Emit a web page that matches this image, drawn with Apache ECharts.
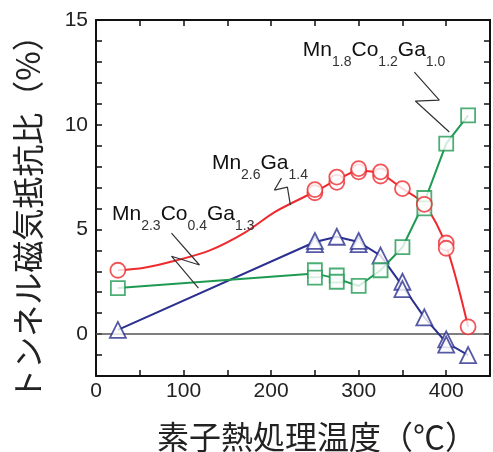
<!DOCTYPE html>
<html><head><meta charset="utf-8">
<script src="https://cdn.jsdelivr.net/npm/echarts/dist/echarts.min.js"></script>
<style>html,body{margin:0;padding:0;background:#fff}#c{width:493px;height:452px}</style>
</head><body><div id="c"></div>
<script>
// ---- data ----
const temps = [25, 250, 275, 300, 325, 350, 375, 400, 425];
// red fitted curve
const redCurveX = [25, 55, 90, 130, 170, 205, 250, 275, 300, 325, 350, 375, 400, 425];
const redCurveY = [3.05, 3.17, 3.5, 4.0, 4.85, 5.85, 6.8, 7.35, 7.8, 7.65, 6.95, 6.2, 4.2, 0.35];
const blueFit = [0.2, 4.4, 4.65, 4.4, 3.75, 2.3, 0.8, -0.4, -1.0];
const greenFit = [2.2, 2.9, 2.65, 2.3, 3.05, 4.15, 6.3, 9.1, 10.45];
const redPts = [[25,3.05],[250,6.75],[250,6.9],[275,7.25],[275,7.5],[300,7.75],[300,7.9],[325,7.55],[325,7.75],[350,6.95],[375,6.2],[400,4.35],[400,4.1],[425,0.35]];
const bluePts = [[25,0.2],[250,4.3],[250,4.45],[275,4.65],[300,4.3],[300,4.45],[325,3.75],[350,2.5],[350,2.15],[375,0.8],[400,-0.25],[400,-0.5],[425,-1.0]];
const greenPts = [[25,2.2],[250,3.05],[250,2.7],[275,2.8],[275,2.5],[300,2.3],[325,3.05],[350,4.15],[375,6.5],[375,6.0],[400,9.1],[425,10.45]];
const xTicks = [0, 100, 200, 300, 400];
const yTicks = [0, 5, 10, 15];
const annoText = [['Mn','1.8','Co','1.2','Ga','1.0'], ['Mn','2.6','Ga','1.4'], ['Mn','2.3','Co','0.4','Ga','1.3']];
const annoPos = [[235.7, 13.47], [131.8, 8.07], [17.7, 5.64]];
const leader1 = [[363.6,12.51],[392.1,11.17],[364.7,11.13],[403.5,9.65]];
const leader2 = [[211.8,7.45],[203.8,6.88],[218.6,7.02],[222.0,6.16]];
const leader3 = [[86.2,4.82],[118.2,3.30],[86.2,3.72],[117.0,2.20]];
const xName = '素子熱処理温度（℃）';
const yName = 'トンネル磁気抵抗比（%）';

// ---- chart ----
const RED = '#ee2a2e', BLUE = '#2b2f8f', GREEN = '#1f9a52';
const LAT = 'Liberation Sans, Arial, sans-serif';
const CJK = 'Noto Sans CJK JP, sans-serif';
const axisLine = {show: true, onZero: false, lineStyle: {color: '#111', width: 2}};
const axisTick = {show: true, inside: true, length: 6, lineStyle: {color: '#111', width: 1.5}};
const zip = (xs, ys) => xs.map((x, i) => [x, ys[i]]);
const chart = echarts.init(document.getElementById('c'), null, {renderer: 'canvas'});
const lineS = (data, color, smooth) => ({type: 'line', data, smooth, symbol: 'none', z: 2,
  lineStyle: {color, width: 2}, silent: true});
const ptS = (data, color, symbol, size) => ({type: 'scatter', data, symbol, symbolSize: size, z: 3,
  itemStyle: {color: '#fff', borderColor: color, borderWidth: 1.8}, silent: true});
const leadS = (data) => ({type: 'line', data, symbol: 'none', z: 4, silent: true,
  lineStyle: {color: '#333', width: 1.2}});
chart.setOption({
  animation: false,
  grid: {left: 96, right: 3, top: 20, bottom: 76, containLabel: false, outerBoundsMode: 'none'},
  xAxis: [{
    type: 'value', min: 0, max: 450, interval: 50, position: 'bottom',
    axisLine, axisTick, splitLine: {show: false},
    axisLabel: {formatter: v => xTicks.includes(v) ? String(v) : '', fontSize: 21, color: '#222', margin: 5, fontFamily: LAT},
    name: xName, nameLocation: 'middle', nameGap: 45,
    nameTextStyle: {fontSize: 32, fontFamily: CJK, color: '#222', padding: [0, 0, 0, 48]}
  }, {
    type: 'value', min: 0, max: 450, interval: 50, position: 'top',
    axisLine, axisTick, splitLine: {show: false}, axisLabel: {show: false}
  }],
  yAxis: [{
    type: 'value', min: -2, max: 15, interval: 1, position: 'left',
    axisLine, axisTick, splitLine: {show: false},
    axisLabel: {formatter: v => yTicks.includes(v) ? String(v) : '', fontSize: 21, color: '#222', margin: 8, fontFamily: LAT},
    name: yName, nameLocation: 'middle', nameGap: 52,
    nameTextStyle: {fontSize: 32, fontFamily: CJK, color: '#222', padding: [0, 24, 0, 0]}
  }, {
    type: 'value', min: -2, max: 15, interval: 1, position: 'right',
    axisLine, axisTick, splitLine: {show: false}, axisLabel: {show: false}
  }],
  series: [
    Object.assign(lineS(zip(temps, blueFit), BLUE, false), {
      markLine: {silent: true, symbol: 'none', label: {show: false}, z: 1,
        lineStyle: {color: '#555', width: 1.5, type: 'solid'}, data: [{yAxis: 0}]}
    }),
    lineS(zip(temps, greenFit), GREEN, false),
    lineS(zip(redCurveX, redCurveY), RED, 0.3),
    ptS(bluePts, BLUE, 'triangle', 16),
    ptS(greenPts, GREEN, 'rect', 14),
    ptS(redPts, RED, 'circle', 15),
    leadS(leader1), leadS(leader2), leadS(leader3),
    {
      type: 'scatter', z: 5, silent: true, symbolSize: 1, itemStyle: {color: 'rgba(0,0,0,0)'},
      data: annoPos.map((p, i) => ({value: p, txt: annoText[i]})),
      label: {
        show: true, position: 'right', distance: 0, color: '#111', opacity: 1,
        formatter: p => p.data.txt.map((t, i) => (i % 2 === 0 ? '{m|' : '{s|') + t + '}').join(''),
        rich: {
          m: {fontSize: 21, lineHeight: 24, verticalAlign: 'top', fontFamily: LAT, color: '#111'},
          s: {fontSize: 14, lineHeight: 14, padding: [15, 0, 0, 0], verticalAlign: 'top', fontFamily: LAT, color: '#333'}
        }
      }
    }
  ]
});
</script></body></html>
